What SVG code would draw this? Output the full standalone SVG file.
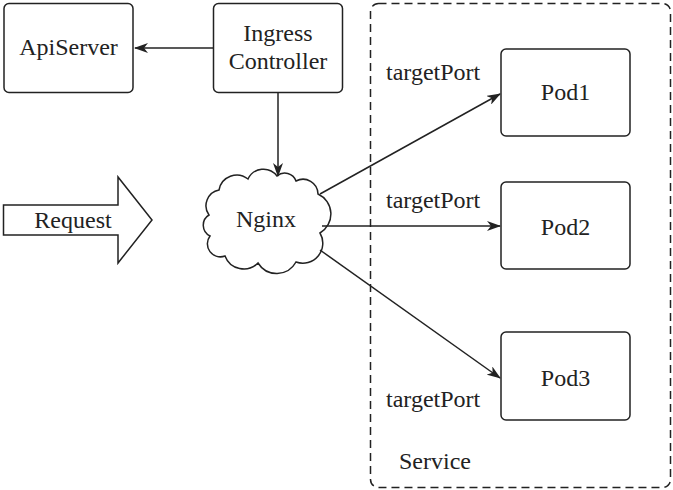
<svg xmlns="http://www.w3.org/2000/svg" width="673" height="490" viewBox="0 0 673 490" font-family="'Liberation Serif', 'Times New Roman', 'DejaVu Serif', serif">
<defs>
<marker id="ah" viewBox="0 0 14 10" refX="13" refY="5" markerWidth="14" markerHeight="10" markerUnits="userSpaceOnUse" orient="auto">
<path d="M0,0 L14,5 L0,10 L4,5 Z" fill="#222"/>
</marker>
<style>
.box{fill:#fff;stroke:#222;stroke-width:1.5}
text{font-family:'Liberation Serif','Times New Roman','DejaVu Serif',serif;font-size:24px;fill:#222}
.m{text-anchor:middle}
.c{fill:none;stroke:#222;stroke-width:1.5;marker-end:url(#ah)}
</style>
</defs>
<rect width="673" height="490" fill="#fff"/>
<g id="service">
<rect x="370.5" y="3.5" width="300" height="484" rx="8" fill="none" stroke="#222" stroke-width="1.5" stroke-dasharray="8,5"/>
<text x="399" y="469">Service</text>
</g>
<g id="apiserver">
<rect class="box" x="4" y="3.5" width="129" height="89" rx="5"/>
<text class="m" x="68.5" y="55">ApiServer</text>
</g>
<g id="ingress">
<rect class="box" x="213.5" y="3.5" width="129" height="89" rx="5"/>
<text class="m" x="278" y="41">Ingress</text>
<text class="m" x="278" y="69">Controller</text>
</g>
<g id="request">
<path d="M3.5,205 L118,205 L118,177 L152,220 L118,263 L118,235 L3.5,235 Z" fill="#fff" stroke="#222" stroke-width="1.5"/>
<text class="m" x="73" y="228">Request</text>
</g>
<g id="nginx">
<path d="M209,215 A16,16 0 0 1 219,190 A18,18 0 0 1 248,179 A17,17 0 0 1 277,176 A12,12 0 0 1 296,181 A15,15 0 0 1 318,194 A22,22 0 0 1 320,233 A20,20 0 0 1 296,262 A22,22 0 0 1 258,263 A20,20 0 0 1 225,256 A13,13 0 0 1 210,236 A12,12 0 0 1 209,215 Z" fill="#fff" stroke="#222" stroke-width="1.5"/>
<text class="m" x="266" y="227">Nginx</text>
</g>
<g id="pod1">
<rect class="box" x="501" y="49" width="129" height="87" rx="5"/>
<text class="m" x="565.5" y="100">Pod1</text>
</g>
<g id="pod2">
<rect class="box" x="501" y="182" width="129" height="87" rx="5"/>
<text class="m" x="565.5" y="235">Pod2</text>
</g>
<g id="pod3">
<rect class="box" x="501" y="332" width="129" height="88" rx="5"/>
<text class="m" x="565.5" y="386">Pod3</text>
</g>
<g id="connectors">
<line class="c" x1="213" y1="48" x2="135" y2="48"/>
<line class="c" x1="278" y1="93" x2="278" y2="176"/>
<line class="c" x1="320" y1="194" x2="500" y2="94"/>
<line class="c" x1="322" y1="226" x2="500" y2="226"/>
<line class="c" x1="320" y1="250" x2="500" y2="378"/>
<text x="386" y="80">targetPort</text>
<text x="386" y="208">targetPort</text>
<text x="386" y="407">targetPort</text>
</g>
</svg>
